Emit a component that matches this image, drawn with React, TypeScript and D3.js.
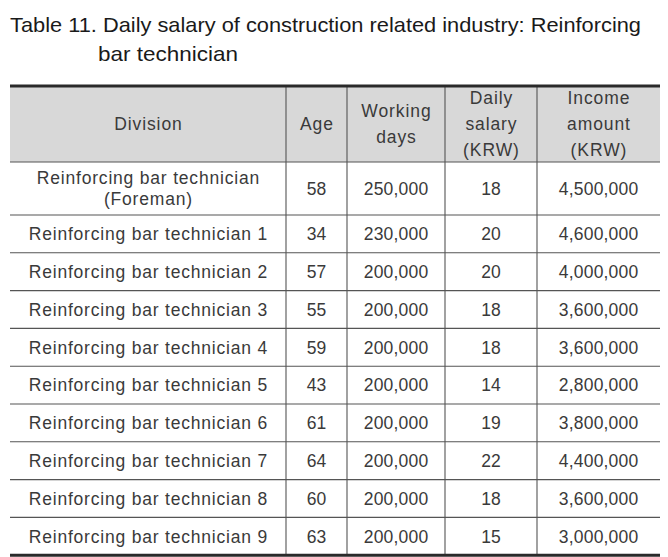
import { useEffect, useRef } from 'react';
import * as d3 from 'd3';

const titleLines = [
  'Table 11. Daily salary of construction related industry: Reinforcing',
  'bar technician',
];

const headers = [
  ['Division'],
  ['Age'],
  ['Working', 'days'],
  ['Daily', 'salary', '(KRW)'],
  ['Income', 'amount', '(KRW)'],
];

const divisions = [
  'Reinforcing bar technician\n(Foreman)',
  'Reinforcing bar technician 1',
  'Reinforcing bar technician 2',
  'Reinforcing bar technician 3',
  'Reinforcing bar technician 4',
  'Reinforcing bar technician 5',
  'Reinforcing bar technician 6',
  'Reinforcing bar technician 7',
  'Reinforcing bar technician 8',
  'Reinforcing bar technician 9',
];
const ages = [58, 34, 57, 55, 59, 43, 61, 64, 60, 63];
const workingDays = [250000, 230000, 200000, 200000, 200000, 200000, 200000, 200000, 200000, 200000];
const dailySalary = [18, 20, 20, 18, 18, 14, 19, 22, 18, 15];
const incomeAmount = [4500000, 4600000, 4000000, 3600000, 3600000, 2800000, 3800000, 4400000, 3600000, 3000000];

const W = 668;
const H = 557;

export default function App() {
  const ref = useRef<SVGSVGElement>(null);

  useEffect(() => {
    if (!ref.current) return;
    const svg = d3.select(ref.current);
    svg.selectAll('*').remove();

    const font = '"Liberation Sans", Arial, sans-serif';
    const fmt = d3.format(',');

    // title
    const title = svg.append('g').attr('font-family', font).attr('fill', '#1a1a1a');
    title.append('text').attr('x', 10).attr('y', 32).attr('font-size', 21)
      .attr('textLength', 631).attr('lengthAdjust', 'spacingAndGlyphs').text(titleLines[0]);
    title.append('text').attr('x', 98).attr('y', 61).attr('font-size', 21)
      .attr('textLength', 140).attr('lengthAdjust', 'spacingAndGlyphs').text(titleLines[1]);

    // column layout
    const colEdges = [10, 286, 347, 445, 537, 660];
    const x = d3.scaleOrdinal<number, number>().domain(d3.range(5)).range(colEdges.slice(0, 5));
    const colW = (i: number) => colEdges[i + 1] - colEdges[i];

    // row layout
    const headTop = 86;
    const headBottom = 162;
    const firstRowH = 53;
    const rowH = 37.8;
    const rowTop = d3.scaleLinear().domain([1, 10]).range([headBottom + firstRowH, headBottom + firstRowH + rowH * 9]);
    const top = (i: number) => (i === 0 ? headBottom : rowTop(i));
    const height = (i: number) => (i === 0 ? firstRowH : rowH);
    const tableBottom = rowTop(10);

    // header background
    svg.append('rect').attr('x', 10).attr('y', headTop).attr('width', 650)
      .attr('height', headBottom - headTop).attr('fill', '#d8d8d8');

    // horizontal lines
    const hLines = [headBottom, ...d3.range(1, 10).map((i) => rowTop(i))];
    svg.append('g').selectAll('line').data(hLines).join('line')
      .attr('x1', 10).attr('x2', 660).attr('y1', (d) => d).attr('y2', (d) => d)
      .attr('stroke', '#555').attr('stroke-width', 1.1);

    // vertical lines
    svg.append('g').selectAll('line').data(colEdges.slice(1, 5)).join('line')
      .attr('x1', (d) => d).attr('x2', (d) => d).attr('y1', headTop).attr('y2', tableBottom)
      .attr('stroke', '#555').attr('stroke-width', 1.1);

    // thick borders
    [headTop, tableBottom].forEach((y) => {
      svg.append('line').attr('x1', 10).attr('x2', 660).attr('y1', y).attr('y2', y)
        .attr('stroke', '#2a2a2a').attr('stroke-width', 3);
    });

    const cellText = (cx: number, cy: number, lines: string[], lh: number, spacing: number) => {
      const t = svg.append('text').attr('font-family', font).attr('font-size', 17.5)
        .attr('fill', '#3a3a3a').attr('text-anchor', 'middle').attr('letter-spacing', spacing);
      const n = lines.length;
      lines.forEach((s, k) => {
        t.append('tspan').attr('x', cx + spacing / 2).attr('y', cy + (k - (n - 1) / 2) * lh).attr('dy', '0.36em').text(s);
      });
    };

    // header text
    headers.forEach((lines, i) => {
      cellText(x(i) + colW(i) / 2, (headTop + headBottom) / 2, lines, 26, 0.9);
    });

    // body
    divisions.forEach((d, r) => {
      const cy = top(r) + height(r) / 2;
      const vals = [d, String(ages[r]), fmt(workingDays[r]), String(dailySalary[r]), fmt(incomeAmount[r])];
      vals.forEach((v, c) => {
        cellText(x(c) + colW(c) / 2, cy, v.split('\n'), 21, c === 0 ? 0.8 : 0.2);
      });
    });
  }, []);

  return (
    <svg ref={ref} width={W} height={H} style={{ position: 'absolute', left: 0, top: 0, background: '#fff' }} />
  );
}
